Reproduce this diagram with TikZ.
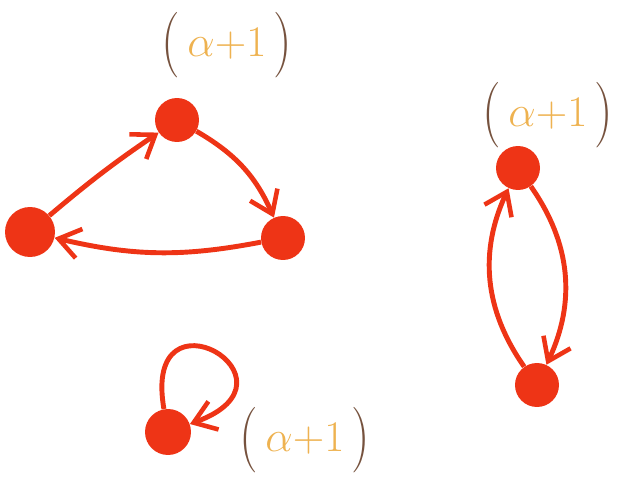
\documentclass[tikz,border=0pt]{standalone}
\usepackage{graphicx}
\usetikzlibrary{arrows.meta}

\definecolor{dotRed}{RGB}{238,52,22}
\definecolor{labOrange}{RGB}{238,178,80}
\definecolor{labBrown}{RGB}{118,82,62}

\newcommand{\alab}{\fontsize{24.88}{27}\selectfont
  \color{labBrown}\raisebox{-0.25ex}{\scalebox{1.2}[1.5]{$($}}%
  {\color{labOrange}$\,\alpha{+}1\,$}%
  \raisebox{-0.25ex}{\scalebox{1.2}[1.5]{$)$}}}

\begin{document}
\begin{tikzpicture}[x=0.02cm, y=0.02cm,
    dot/.style={circle, fill=dotRed, inner sep=0pt, minimum size=0.88cm},
    arc/.style={draw=dotRed, line width=2.8pt,
      -{Straight Barb[length=12pt, width=17pt, line width=2.6pt]}}]
        \useasboundingbox (0,0) rectangle (619,484);
        % triangle
        \node[dot] (triTop)   at (177,364) {};
        \node[dot, minimum size=1cm] (triLeft) at (30,252) {};
        \node[dot] (triRight) at (283,246) {};
        \node (labTri) at (227,439) {\alab};
        \draw[arc] (triLeft) to[bend left=3] (triTop);
        \draw[arc] (triTop) to[bend left=18] (triRight);
        \draw[arc] (triRight) to[bend left=12] (triLeft);
        % pair
        \node[dot] (pairTop) at (518,316) {};
        \node[dot] (pairBot) at (537,99) {};
        \node (labPair) at (548,369) {\alab};
        \draw[arc] (pairTop) to[bend left=30] (pairBot);
        \draw[arc] (pairBot) to[bend left=30] (pairTop);
        % loop
        \node[dot, minimum size=0.92cm] (loopNode) at (168,52) {};
        \node (labLoop) at (305,44) {\alab};
        \draw[arc] (loopNode) to[out=100, in=20, min distance=2.6cm] (loopNode);
      \end{tikzpicture}
\end{document}
